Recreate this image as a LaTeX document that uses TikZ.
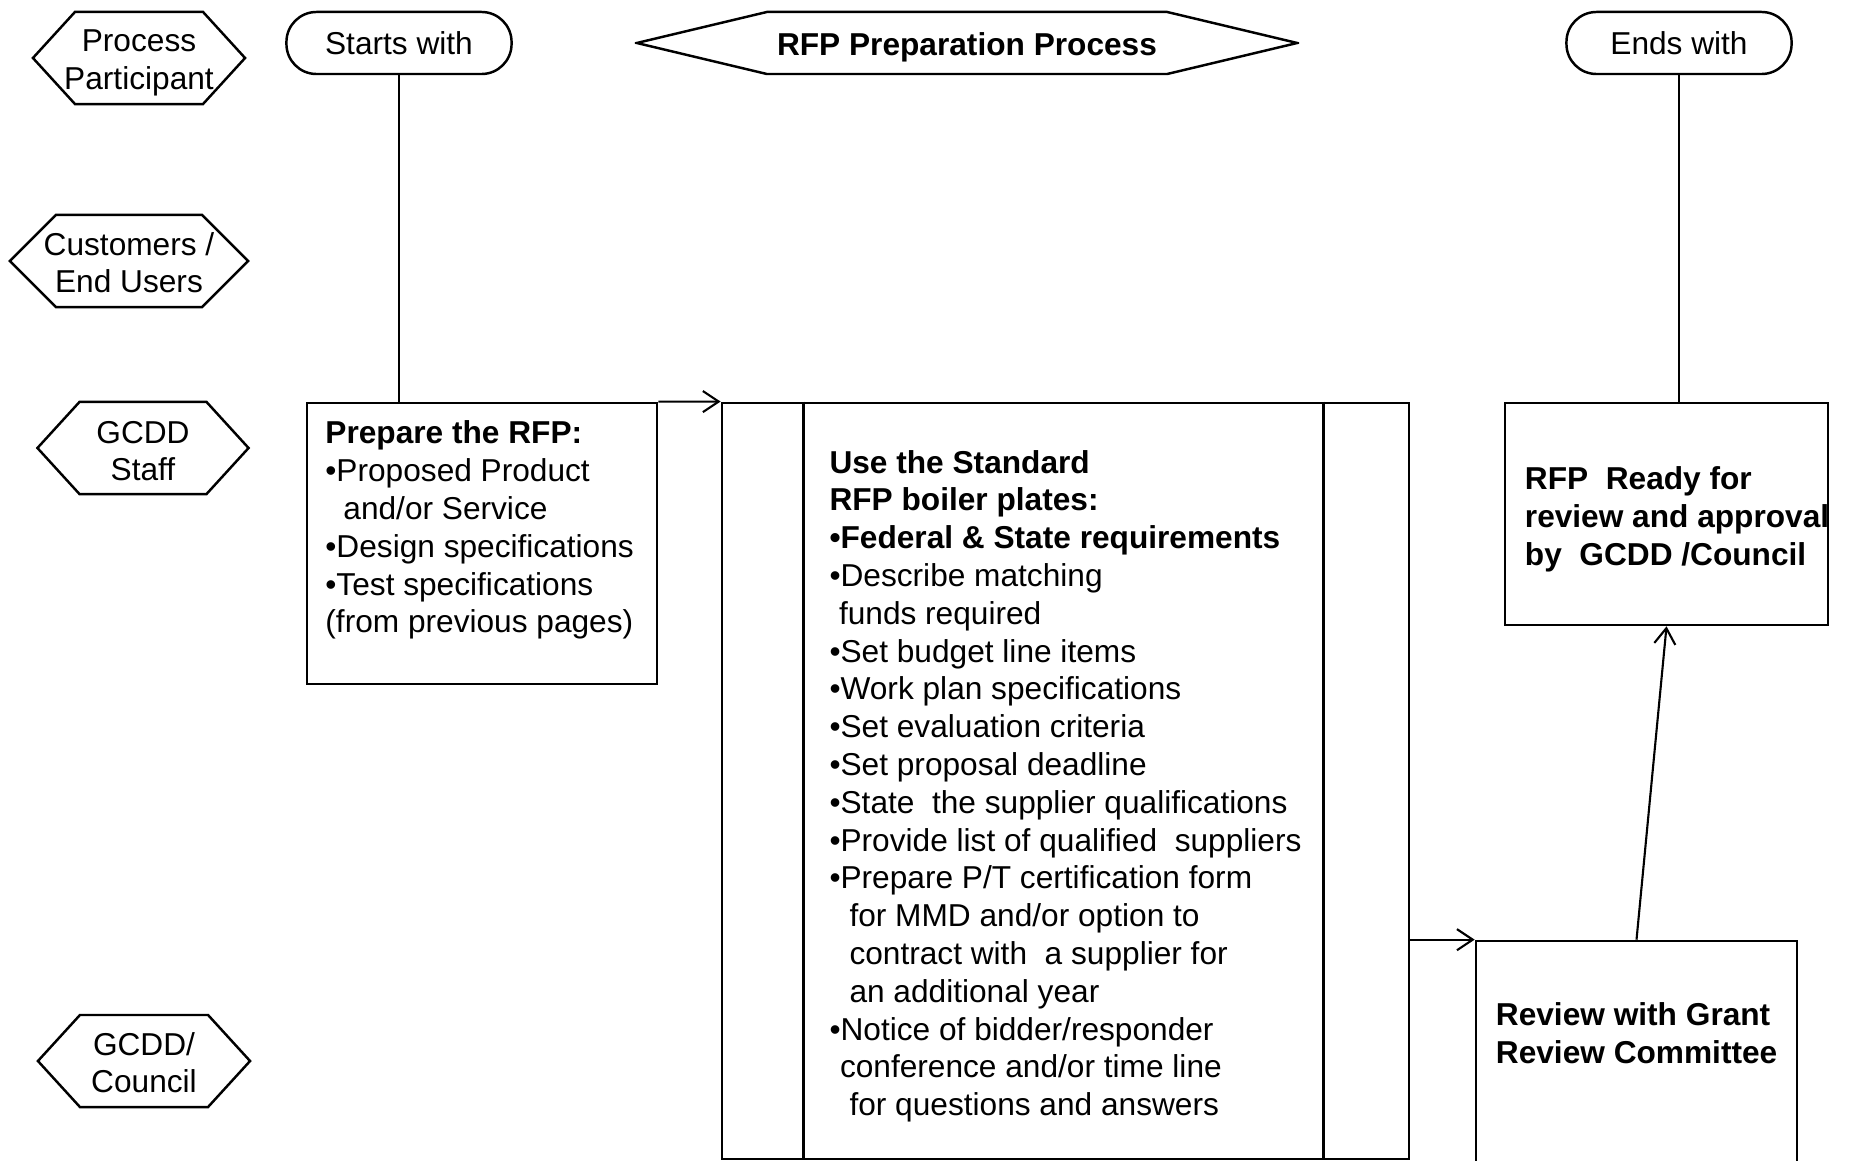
\documentclass[tikz,border=0pt]{standalone}
\usepackage{fontspec}
\setmainfont{Liberation Sans}
\usetikzlibrary{arrows.meta}

\newcommand{\lanefont}{\fontsize{9}{10.75}\selectfont}
\newcommand{\lift}[1]{\rule{0pt}{#1}}

\begin{document}
\begin{tikzpicture}[x=0.01cm,y=-0.01cm,
	every node/.style={font=\lanefont},
	hexa/.style 2 args={shape=rectangle,minimum width=#1,minimum height=0.96cm,align=center,inner sep=0pt,
		path picture={\draw[line width=0.7pt]
			([xshift=#2,yshift=-0.02cm]path picture bounding box.north west)
			-- ([xshift=-#2,yshift=-0.02cm]path picture bounding box.north east)
			-- ([xshift=-0.02cm]path picture bounding box.east)
			-- ([xshift=-#2,yshift=0.02cm]path picture bounding box.south east)
			-- ([xshift=#2,yshift=0.02cm]path picture bounding box.south west)
			-- ([xshift=0.02cm]path picture bounding box.west) -- cycle;}},
	term/.style={shape=rectangle,rounded corners=0.3cm,draw=black,line width=0.7pt,minimum width=2.25cm,minimum height=0.62cm},
	task/.style={shape=rectangle,draw=black,line width=0.7pt,inner sep=0pt},
	link/.style={line width=0.6pt},
	flow/.style={line width=0.6pt,-{Straight Barb[length=4.5pt,width=6pt]}}]
	\useasboundingbox (0,0) rectangle (1849,1161);
	% participants
	\node[hexa={2.16cm}{0.44cm}] (pp) at (139,58) {\lift{9pt}Process\\Participant};
	\node[hexa={2.42cm}{0.48cm}] (cust) at (129,261) {\lift{7.5pt}Customers /\\End Users};
	\node[hexa={2.15cm}{0.44cm}] (staff) at (143,448) {\lift{8pt}GCDD\\Staff};
	\node[hexa={2.16cm}{0.44cm}] (council) at (144,1061) {\lift{7.5pt}GCDD/\\Council};
	% header
	\node[term] (start) at (399,43) {Starts with};
	\node[hexa={6.64cm}{1.32cm},minimum height=0.66cm] (title) at (967,43) {\lift{8.8pt}\textbf{RFP Preparation Process}};
	\node[term] (stop) at (1679,43) {Ends with};
	% steps
	\node[task,inner xsep=0.185cm,inner ysep=0.18cm] (prep) at (482,543.5) {\parbox[c][2.45cm][t]{3.13cm}{%
		\textbf{Prepare the RFP:}\\
		•Proposed Product\\
		\hspace*{0.18cm}and/or Service\\
		•Design specifications\\
		•Test specifications\\
		(from previous pages)}};
	\node[task,minimum width=6.87cm,minimum height=7.56cm,align=left] (bigbox) at (1065.5,781) {%
		\lift{9.5pt}\textbf{Use the Standard}\\
		\textbf{RFP boiler plates:}\\
		\textbf{•Federal \& State requirements}\\
		•Describe matching\\
		\hspace*{0.095cm}funds required\\
		•Set budget line items\\
		•Work plan specifications\\
		•Set evaluation criteria\\
		•Set proposal deadline\\
		•State~~the supplier qualifications\\
		•Provide list of qualified~~suppliers\\
		•Prepare P/T certification form\\
		\hspace*{0.2cm}for MMD and/or option to\\
		\hspace*{0.2cm}contract with~~a supplier for\\
		\hspace*{0.2cm}an additional year\\
		•Notice of bidder/responder\\
		\hspace*{0.105cm}conference and/or time line\\
		\hspace*{0.2cm}for questions and answers};
	\draw[line width=0.7pt] ([xshift=0.83cm]bigbox.north west) -- ([xshift=0.83cm]bigbox.south west);
	\draw[line width=0.7pt] ([xshift=-0.87cm]bigbox.north east) -- ([xshift=-0.87cm]bigbox.south east);
	\node[task,inner xsep=0.2cm,inner ysep=0.62cm] (review) at (1636.5,1091) {\parbox[c][1.76cm][t]{2.81cm}{\bfseries
		\mbox{Review with Grant}\\
		\mbox{Review Committee}}};
	\node[task,inner xsep=0.2cm,minimum height=2.22cm] (ready) at (1666.5,514) {\parbox{2.83cm}{\bfseries
		\lift{9.5pt}\mbox{RFP~~Ready for}\\
		\mbox{review and approval}\\
		\mbox{by~~GCDD /Council}}};
	% connectors
	\path [link] (start) edge (start |- prep.north);
	\path [flow] (prep.north east) edge (bigbox.north west);
	\path [flow] (bigbox.east |- review.north) edge (review.north west);
	\path [flow] (review.north) edge (ready.south);
	\path [link] (stop) edge (stop |- ready.north);
\end{tikzpicture}
\end{document}
